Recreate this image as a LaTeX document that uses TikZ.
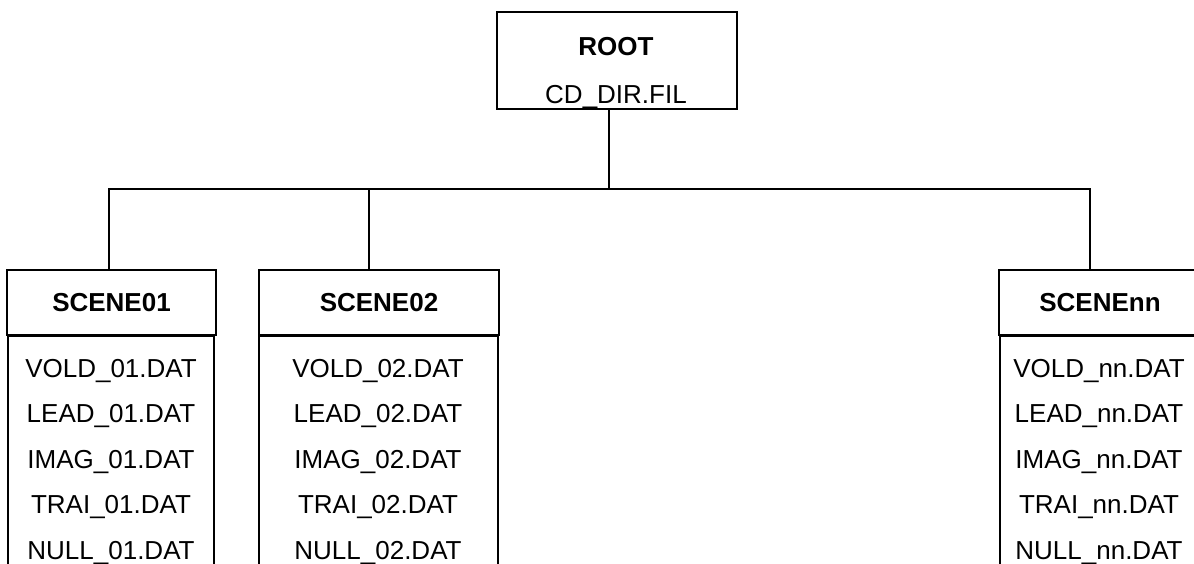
\documentclass[tikz,border=0pt]{standalone}
\usepackage{fontspec}
\setmainfont{Liberation Sans}
\usetikzlibrary{positioning}

\tikzset{
  box/.style={draw, line width=2pt, rectangle, inner sep=0pt},
  headbox/.style={box, minimum height=65pt, font=\bfseries\fontsize{26}{30}\selectfont},
  filebox/.style={box, anchor=north west, minimum height=300pt},
  entry/.style={inner sep=0pt, anchor=base, font=\fontsize{26}{30}\selectfont},
  link/.style={line width=2pt}
}

\begin{document}
\begin{tikzpicture}[x=1pt,y=-1pt]
    \useasboundingbox (0,0) rectangle (1194,563);

    % root directory
    \node[box, minimum width=240pt, minimum height=97pt] (root) at (617,60.5) {};
    \node[entry, font=\bfseries\fontsize{26}{30}\selectfont] (roottitle) at (616,55) {ROOT};
    \node[entry] (rootfile) at (616,103) {CD\_DIR.FIL};

    % scene directories
    \node[headbox, minimum width=209pt] (s1head) at (111.5,302.5) {SCENE01};
    \node[filebox, minimum width=206pt] (s1list) at (7,335) {};
    \foreach \f [count=\i] in {VOLD,LEAD,IMAG,TRAI,NULL}
        \node[entry] (s1f\i) at (111,331.5+45.5*\i) {\f\_01.DAT};

    \node[headbox, minimum width=240pt] (s2head) at (379,302.5) {SCENE02};
    \node[filebox, minimum width=239pt] (s2list) at (258,335) {};
    \foreach \f [count=\i] in {VOLD,LEAD,IMAG,TRAI,NULL}
        \node[entry] (s2f\i) at (378,331.5+45.5*\i) {\f\_02.DAT};

    \node[headbox, minimum width=202pt] (snhead) at (1100,302.5) {SCENEnn};
    \node[filebox, minimum width=202pt] (snlist) at (999,335) {};
    \foreach \f [count=\i] in {VOLD,LEAD,IMAG,TRAI,NULL}
        \node[entry] (snf\i) at (1099,331.5+45.5*\i) {\f\_nn.DAT};

    % tree lines
    \coordinate (jr) at (609,189);
    \coordinate (j1) at (109,189);
    \coordinate (j2) at (369,189);
    \coordinate (jn) at (1090,189);
    \draw[link] (jr |- root.south) -- (jr);
    \draw[link] (j1 |- s1head.north) -- (j1) -- (jn) -- (jn |- snhead.north);
    \draw[link] (j2) -- (j2 |- s2head.north);
\end{tikzpicture}
\end{document}
